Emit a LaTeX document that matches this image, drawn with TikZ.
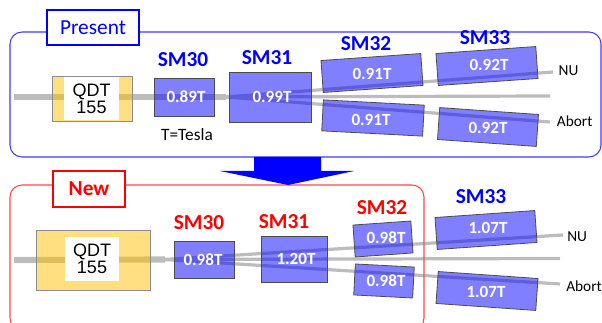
\documentclass[tikz,border=0pt]{standalone}
\usepackage{fontspec}
\setmainfont{Carlito}
\newfontfamily\qdtfont{Liberation Sans}
\usetikzlibrary{positioning, backgrounds}
\definecolor{framecolor}{RGB}{60,60,255}
\definecolor{newcolor}{RGB}{255,70,70}
\definecolor{magnetcolor}{RGB}{0,0,255}
\definecolor{qdtcolor}{RGB}{255,192,0}
\definecolor{beamcolor}{RGB}{188,188,188}

\begin{document}
\begin{tikzpicture}[
    x=0.75pt, y=-0.75pt,
    frame/.style={rectangle, draw, rounded corners=9pt, line width=0.8pt},
    tag/.style={rectangle, draw, line width=2pt, fill=white, inner sep=0pt, font=\fontsize{16}{18}\selectfont},
    magnet/.style={rectangle, draw=black!70, line width=0.6pt, fill=magnetcolor, fill opacity=0.5, inner sep=0pt},
    qdt/.style={rectangle, draw=black!45, line width=0.7pt, fill=qdtcolor, fill opacity=0.5, inner sep=0pt},
    qdtname/.style={rectangle, fill=white, inner sep=0pt, align=center, font=\qdtfont\fontsize{13.5}{12.8}\selectfont},
    value/.style={text=white, inner sep=0pt, font=\bfseries\fontsize{12.8}{14}\selectfont},
    smname/.style={inner sep=0pt, font=\bfseries\fontsize{16}{18}\selectfont},
    beamline/.style={draw=beamcolor, line width=2.4pt},
    beammain/.style={draw=beamcolor, line width=4.6pt},
    endlabel/.style={inner sep=0pt, anchor=west, font=\fontsize{11.5}{13}\selectfont}
]
    \path[use as bounding box, clip] (0,0) rectangle (602,323);

    % Frames
    \node[frame, draw=framecolor, minimum width=591*0.75pt, minimum height=125*0.75pt] (present) at (305.5,94.5) {};
    \node[frame, draw=newcolor, minimum width=414*0.75pt, minimum height=145*0.75pt] (new) at (217,257.5) {};
    \node[tag, draw=magnetcolor, text=magnetcolor, minimum width=92*0.75pt, minimum height=35*0.75pt] (presenttag) at (93,27.5) {Present\hspace{4pt}};
    \node[tag, draw=red, text=red, minimum width=72*0.75pt, minimum height=36*0.75pt, font=\bfseries\fontsize{16}{18}\selectfont] (newtag) at (89,189) {New\hspace{1pt}};

    % Arrow between the two
    \fill[magnetcolor] (254,157) -- (321,157) -- (321,171) -- (354,171) -- (288,185) -- (220,171) -- (254,171) -- cycle;

    % Present layout
    \node[qdt, minimum width=80*0.75pt, minimum height=45*0.75pt] (qdtA) at (92,98.5) {};
    \node[qdtname, minimum width=55*0.75pt, minimum height=43*0.75pt] (qdtnameA) at (91.5,98.5) {QDT\\155};
    \node[magnet, minimum width=60*0.75pt, minimum height=38*0.75pt] (smA30) at (184,97) {};
    \node[magnet, minimum width=82*0.75pt, minimum height=50*0.75pt] (smA31) at (270,97) {};
    \node[magnet, rotate=4, minimum width=100*0.75pt, minimum height=32*0.75pt] (smA32up) at (372,73) {};
    \node[magnet, rotate=-3, minimum width=101*0.75pt, minimum height=31*0.75pt] (smA32low) at (373,118) {};
    \node[magnet, rotate=4, minimum width=100*0.75pt, minimum height=32*0.75pt] (smA33up) at (487,66) {};
    \node[magnet, rotate=-4, minimum width=99*0.75pt, minimum height=32*0.75pt] (smA33low) at (488,127) {};

    \node[value] (valA30) at (186,97) {0.89T};
    \node[value] (valA31) at (272,97) {0.99T};
    \node[value] (valA32up) at (372,74) {0.91T};
    \node[value] (valA32low) at (371,120) {0.91T};
    \node[value] (valA33up) at (489,64.5) {0.92T};
    \node[value] (valA33low) at (488,128) {0.92T};

    \node[smname, text=magnetcolor] (nameA30) at (183,60) {SM30};
    \node[smname, text=magnetcolor] (nameA31) at (267,58) {SM31};
    \node[smname, text=magnetcolor] (nameA32) at (366,44) {SM32};
    \node[smname, text=magnetcolor] (nameA33) at (485,38) {SM33};
    \node[inner sep=0pt, font=\fontsize{13}{15}\selectfont] (tesla) at (187,135) {T=Tesla};

    \coordinate (startA) at (14,97);
    \coordinate (fanA) at (226,97);
    \coordinate (straightA) at (550,96);
    \coordinate (nuendA) at (553,72);
    \coordinate (abortendA) at (550,122);
    \node[endlabel, right=4pt of nuendA, yshift=1pt] (nuA) {NU};
    \node[endlabel, right=5pt of abortendA, yshift=0.5pt] (abortA) {Abort};

    % New layout
    \node[qdt, minimum width=114*0.75pt, minimum height=60*0.75pt] (qdtB) at (93,260) {};
    \node[qdtname, minimum width=54*0.75pt, minimum height=44*0.75pt] (qdtnameB) at (92,259) {QDT\\155};
    \node[magnet, minimum width=60*0.75pt, minimum height=37*0.75pt] (smB30) at (204,259.5) {};
    \node[magnet, minimum width=66*0.75pt, minimum height=46*0.75pt] (smB31) at (294,259) {};
    \node[magnet, rotate=4, minimum width=58*0.75pt, minimum height=32*0.75pt] (smB32up) at (383,239) {};
    \node[magnet, rotate=-3, minimum width=59*0.75pt, minimum height=31*0.75pt] (smB32low) at (384,281) {};
    \node[magnet, rotate=4, minimum width=100*0.75pt, minimum height=32*0.75pt] (smB33up) at (486,230) {};
    \node[magnet, rotate=-4, minimum width=100*0.75pt, minimum height=32*0.75pt] (smB33low) at (487,291) {};

    \node[value] (valB30) at (203,260) {0.98T};
    \node[value] (valB31) at (296,259) {1.20T};
    \node[value] (valB32up) at (386,238) {0.98T};
    \node[value] (valB32low) at (386,281) {0.98T};
    \node[value] (valB33up) at (488,228) {1.07T};
    \node[value] (valB33low) at (486,292) {1.07T};

    \node[smname, text=red] (nameB30) at (199,223) {SM30};
    \node[smname, text=red] (nameB31) at (284,221.5) {SM31};
    \node[smname, text=red] (nameB32) at (382,208) {SM32};
    \node[smname, text=magnetcolor] (nameB33) at (481,197) {SM33};

    \coordinate (startB) at (14,260);
    \coordinate (fanB) at (165,259.5);
    \coordinate (straightB) at (560,258.5);
    \coordinate (nuendB) at (563,235);
    \coordinate (abortendB) at (560,284);
    \node[endlabel, right=3pt of nuendB, yshift=-1pt] (nuB) {NU};
    \node[endlabel, right=4.5pt of abortendB, yshift=-2pt] (abortB) {Abort};

    % Beams
    \begin{scope}[on background layer]
        \draw[beammain] (startA) -- (fanA);
        \draw[beamline] (fanA) -- (straightA);
        \draw[beamline] (fanA) -- (nuendA);
        \draw[beamline] (fanA) -- (abortendA);
        \draw[beammain] (startB) -- (fanB);
        \draw[beamline] (fanB) -- (straightB);
        \draw[beamline] (fanB) -- (nuendB);
        \draw[beamline] (fanB) -- (abortendB);
    \end{scope}
\end{tikzpicture}
\end{document}
